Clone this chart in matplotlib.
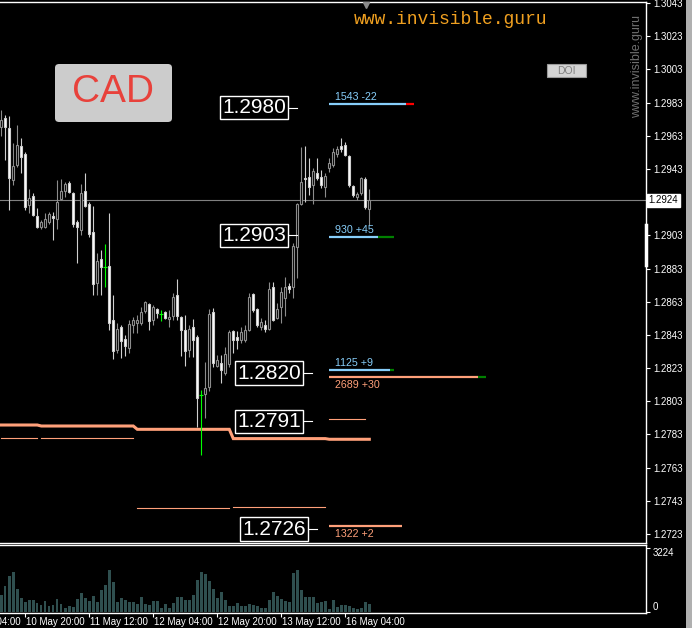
import numpy as np
import matplotlib
matplotlib.use('Agg')
import matplotlib.pyplot as plt
import matplotlib.transforms as mtransforms
from matplotlib.patches import FancyBboxPatch, Rectangle

plt.rcParams['font.family'] = ['Liberation Sans', 'DejaVu Sans']

# ---- USDCAD H1 candles, bar 0 = 10 May 14:00 ----
opens = [1.29683, 1.29737, 1.29677, 1.29363, 1.29454, 1.29568, 1.29520, 1.29213, 1.29267, 1.29146,
         1.29080, 1.29080, 1.29110, 1.29146, 1.29128, 1.29249, 1.29297, 1.29345, 1.29285, 1.29110,
         1.29062, 1.29297, 1.29219, 1.29050, 1.28743, 1.28887, 1.28839, 1.28845, 1.28520, 1.28339,
         1.28478, 1.28405, 1.28351, 1.28490, 1.28502, 1.28502, 1.28574, 1.28616, 1.28520, 1.28586,
         1.28556, 1.28568, 1.28526, 1.28544, 1.28670, 1.28538, 1.28459, 1.28339, 1.28478, 1.28417,
         1.28068, 1.28074, 1.28116, 1.28568, 1.28243, 1.28261, 1.28200, 1.28255, 1.28453, 1.28417,
         1.28399, 1.28399, 1.28459, 1.28676, 1.28586, 1.28478, 1.28490, 1.28465, 1.28719, 1.28532,
         1.28598, 1.28652, 1.28725, 1.28719, 1.28960, 1.29219, 1.29375, 1.29381, 1.29333, 1.29405,
         1.29381, 1.29321, 1.29436, 1.29454, 1.29520, 1.29568, 1.29574, 1.29508, 1.29327, 1.29261,
         1.29285, 1.29369, 1.29189]
highs = [1.29785, 1.29755, 1.29749, 1.29586, 1.29695, 1.29616, 1.29532, 1.29309, 1.29285, 1.29195,
         1.29122, 1.29164, 1.29170, 1.29170, 1.29363, 1.29369, 1.29351, 1.29357, 1.29291, 1.29122,
         1.29339, 1.29405, 1.29231, 1.29207, 1.28923, 1.28942, 1.28978, 1.29164, 1.28670, 1.28502,
         1.28490, 1.28429, 1.28520, 1.28538, 1.28550, 1.28598, 1.28635, 1.28622, 1.28610, 1.28592,
         1.28580, 1.28574, 1.28580, 1.28682, 1.28767, 1.28544, 1.28550, 1.28490, 1.28526, 1.28429,
         1.28098, 1.28267, 1.28586, 1.28592, 1.28309, 1.28309, 1.28357, 1.28459, 1.28459, 1.28453,
         1.28478, 1.28490, 1.28682, 1.28682, 1.28592, 1.28532, 1.28520, 1.28749, 1.28749, 1.28622,
         1.28719, 1.28779, 1.28743, 1.28984, 1.29225, 1.29562, 1.29568, 1.29496, 1.29436, 1.29496,
         1.29424, 1.29405, 1.29496, 1.29556, 1.29568, 1.29616, 1.29592, 1.29514, 1.29333, 1.29291,
         1.29381, 1.29381, 1.29309]
lows = [1.29628, 1.29484, 1.29183, 1.29333, 1.29442, 1.29405, 1.29183, 1.29164, 1.29146, 1.29074,
        1.29068, 1.29074, 1.29098, 1.29002, 1.29068, 1.29243, 1.29261, 1.29285, 1.29080, 1.28863,
        1.29032, 1.29201, 1.29020, 1.28670, 1.28670, 1.28670, 1.28719, 1.28459, 1.28285, 1.28321,
        1.28291, 1.28303, 1.28321, 1.28441, 1.28441, 1.28490, 1.28562, 1.28459, 1.28490, 1.28532,
        1.28514, 1.28526, 1.28478, 1.28520, 1.28520, 1.28303, 1.28243, 1.28297, 1.28297, 1.27875,
        1.27706, 1.27929, 1.28092, 1.28236, 1.28236, 1.28140, 1.28188, 1.28236, 1.28321, 1.28345,
        1.28381, 1.28387, 1.28453, 1.28568, 1.28478, 1.28459, 1.28447, 1.28459, 1.28514, 1.28526,
        1.28502, 1.28544, 1.28682, 1.28652, 1.28773, 1.29213, 1.29231, 1.29273, 1.29219, 1.29363,
        1.29315, 1.29261, 1.29412, 1.29442, 1.29502, 1.29532, 1.29508, 1.29321, 1.29261, 1.29243,
        1.29273, 1.29189, 1.29092]
closes = [1.29725, 1.29683, 1.29375, 1.29448, 1.29574, 1.29502, 1.29201, 1.29255, 1.29152, 1.29080,
          1.29110, 1.29128, 1.29158, 1.29134, 1.29231, 1.29297, 1.29339, 1.29291, 1.29098, 1.29080,
          1.29285, 1.29207, 1.29038, 1.28737, 1.28875, 1.28839, 1.28839, 1.28502, 1.28333, 1.28465,
          1.28393, 1.28363, 1.28496, 1.28520, 1.28520, 1.28568, 1.28628, 1.28514, 1.28598, 1.28562,
          1.28556, 1.28532, 1.28538, 1.28658, 1.28544, 1.28459, 1.28333, 1.28465, 1.28399, 1.28050,
          1.28068, 1.28110, 1.28556, 1.28261, 1.28279, 1.28218, 1.28315, 1.28447, 1.28399, 1.28399,
          1.28447, 1.28459, 1.28658, 1.28580, 1.28490, 1.28508, 1.28465, 1.28706, 1.28520, 1.28586,
          1.28688, 1.28719, 1.28706, 1.28966, 1.29219, 1.29351, 1.29369, 1.29321, 1.29418, 1.29375,
          1.29333, 1.29387, 1.29466, 1.29532, 1.29550, 1.29550, 1.29514, 1.29333, 1.29273, 1.29279,
          1.29375, 1.29201, 1.29240]
volumes = [840, 1300, 1800, 2000, 1160, 720, 490, 590, 590, 450,
           340, 540, 300, 340, 640, 390, 190, 290, 250, 640,
           940, 720, 540, 810, 500, 1090, 1360, 2100, 1500, 490,
           690, 590, 500, 490, 400, 740, 420, 350, 540, 540,
           190, 390, 190, 450, 740, 740, 620, 590, 860, 1630,
           2000, 1920, 1550, 1140, 690, 990, 590, 300, 290, 440,
           320, 320, 400, 350, 290, 190, 200, 590, 990, 790,
           660, 540, 490, 1980, 2100, 1090, 760, 760, 770, 470,
           520, 540, 150, 590, 240, 340, 340, 300, 190, 150,
           190, 490, 390]

time_bars = [-10, 6, 22, 38, 54, 70, 86]
time_labels = ['10 May 04:00', '10 May 20:00', '11 May 12:00', '12 May 04:00',
               '12 May 20:00', '13 May 12:00', '16 May 04:00']
price_ticks = [1.3043, 1.3023, 1.3003, 1.2983, 1.2963, 1.2943, 1.2903, 1.2883, 1.2863,
               1.2843, 1.2823, 1.2803, 1.2783, 1.2763, 1.2743, 1.2723]
bid = 1.2924
vol_max = 3224

# daily indicator lines (one value per trading day)
day_start = [0, 10, 34, 58, 82]
day_end = [9, 33, 57, 81, 92]
thick_level = [1.27887, 1.27881, 1.27861, 1.27805, 1.27801]
thin_level = [1.27809, 1.27807, 1.27385, 1.27391, 1.27923]
thin_end = [9, 33, 57, 81, 91]

# current-day levels on the right
lvl_price = [1.29821, 1.29020, 1.28218, 1.28178, 1.27278]
lvl_end = [101.2, 94.2, 97.2, 119.2, 100.2]
lvl_tip = [103.2, 98.2, 98.2, 121.2, None]
lvl_text = ['1543 -22', '930 +45', '1125 +9', '2689 +30', '1322 +2']

tag_text = ['1.2980', '1.2903', '1.2820', '1.2791', '1.2726']
tag_bar = [71.7, 71.7, 75.4, 75.4, 76.7]

W, H = 692, 628
BLUE = '#87cefa'
SALMON = '#ffa07a'

fig = plt.figure(figsize=(W / 100, H / 100), dpi=100, facecolor='black')


def rect(x0, y0, x1, y1):
    return [x0 / W, 1 - y1 / H, (x1 - x0) / W, (y1 - y0) / H]


ax = fig.add_axes(rect(0, 1.5, 646, 543))
axv = fig.add_axes(rect(0, 545, 646, 613))
for a in (ax, axv):
    a.set_facecolor('black')
    a.spines['left'].set_visible(False)
    for s in ('top', 'right', 'bottom'):
        a.spines[s].set_color('white')
        a.spines[s].set_linewidth(1.0)
    a.set_xlim(-0.325, 161.175)

# ---- candles ----
idx = np.arange(len(opens))
o, hi, lo, c = map(np.array, (opens, highs, lows, closes))
bull = c > o
bear = c < o
doji = c == o
ax.vlines(idx[bull], lo[bull], hi[bull], color='#8c8c8c', lw=0.8, zorder=3)
ax.vlines(idx[bear], lo[bear], hi[bear], color='#cfcfcf', lw=0.8, zorder=3)
ax.bar(idx[bull], (c - o)[bull], bottom=o[bull], width=0.5, facecolor='black',
       edgecolor='#8c8c8c', lw=0.8, zorder=4)
ax.bar(idx[bear], (o - c)[bear], bottom=c[bear], width=0.5, facecolor='white',
       edgecolor='#cfcfcf', lw=0.8, zorder=4)
ax.vlines(idx[doji], lo[doji], hi[doji], color='#00ff00', lw=0.8, zorder=4)
ax.hlines(c[doji], idx[doji] - 0.5, idx[doji] + 0.5, color='#00ff00', lw=0.8, zorder=4)

ax.axhline(bid, color='#808080', lw=0.8, zorder=2)

# ---- daily lines ----
xs, ys = [], []
for s, e, v in zip(day_start, day_end, thick_level):
    xs += [s, e]
    ys += [v, v]
ax.plot(xs, ys, color=SALMON, lw=2.2, solid_joinstyle='miter', zorder=2)
for s, e, v in zip(day_start, thin_end, thin_level):
    ax.plot([s, e], [v, v], color=SALMON, lw=0.8, zorder=2)

# ---- right-side levels ----
tip_colors = ['#ff0000', '#008000', '#008000', '#008000', None]
lvl_colors = [BLUE, BLUE, BLUE, SALMON, SALMON]
above = [True, True, True, False, False]
for p, e, t, txt, col, tc, up in zip(lvl_price, lvl_end, lvl_tip, lvl_text,
                                     lvl_colors, tip_colors, above):
    ax.plot([day_start[-1], e], [p, p], color=col, lw=1.6, solid_capstyle='butt', zorder=3)
    if t is not None:
        ax.plot([e, t], [p, p], color=tc, lw=1.6, solid_capstyle='butt', zorder=3)
    ax.annotate(txt, xy=(day_start[-1], p), xytext=(6, 7 if up else -8),
                textcoords='offset pixels', color=col, fontsize=7.7,
                ha='left', va='center', zorder=5)

# ---- price tags ----
for txt, b in zip(tag_text, tag_bar):
    p = float(txt)
    ax.plot([b, b + 2.3], [p, p], color='white', lw=0.8, zorder=5)
    ax.text(b - 0.5, p, txt, color='white', fontsize=15, ha='right', va='center',
            bbox=dict(boxstyle='square,pad=0.1', fc='black', ec='white', lw=1.0),
            zorder=6)

# ---- axes ticks ----
ax.set_ylim(1.27176, 1.30439)
ax.set_xticks([])
ax.yaxis.tick_right()
ax.set_yticks(price_ticks)
ax.set_yticklabels([f'{p:.4f}' for p in price_ticks])
ax.tick_params(axis='y', colors='white', length=3, width=0.8, pad=2, labelsize=7)

trans_r = mtransforms.blended_transform_factory(ax.transAxes, ax.transData)
ax.text(1.0 + 2.5 / 646, bid, f'{bid:.4f}', transform=trans_r, color='black', fontsize=7,
        ha='left', va='center', bbox=dict(boxstyle='square,pad=0.15', fc='white', ec='white'),
        clip_on=False, zorder=7)
ax.plot([1.0, 1.0], [1.29092, 1.28851], transform=trans_r, color='white', lw=2.5,
        clip_on=False, zorder=7)
trans_t = mtransforms.blended_transform_factory(ax.transData, ax.transAxes)
ax.plot([91.2], [1 - 3 / 541], transform=trans_t, marker='v', color='#8a8a8a',
        markersize=5, clip_on=False, zorder=7)

# ---- volume ----
axv.bar(idx, volumes, width=0.6, color='#2f4f4f', zorder=2)
axv.set_ylim(-50.4, 3377)
axv.yaxis.tick_right()
axv.set_yticks([0, vol_max])
axv.set_yticklabels(['0', str(vol_max)])
axv.tick_params(axis='y', colors='white', length=3, width=0.8, pad=2, labelsize=7)
for lbl in axv.get_yticklabels():
    lbl.set_va('top' if lbl.get_text() == str(vol_max) else 'bottom')
axv.set_xticks([b for b in time_bars if b >= 0])
axv.set_xticklabels([])
axv.tick_params(axis='x', colors='white', length=3, width=0.8)
trans_b = mtransforms.blended_transform_factory(axv.transData, axv.transAxes)
for b, lab in zip(time_bars, time_labels):
    axv.text(b + 0.15, -9 / 68, lab, transform=trans_b, color='white', fontsize=7,
             ha='left', va='center', clip_on=False)

# ---- decorations ----
fig.patches.append(FancyBboxPatch((55 / W, 1 - 122 / H), 117 / W, 58 / H,
                                  boxstyle='round,pad=0,rounding_size=0.006',
                                  fc='#cccccc', ec='none', transform=fig.transFigure))
fig.text(113.5 / W, 1 - 92 / H, 'CAD', color='#e8413b', fontsize=28,
         ha='center', va='center')
fig.text(451 / W, 1 - 20 / H, 'www.invisible.guru', color='#f0a020', fontsize=13,
         family='Liberation Mono', ha='center', va='center')
fig.text(637 / W, 1 - 66 / H, 'www.invisible.guru', color='#707070', fontsize=9,
         rotation=90, ha='center', va='center')
fig.patches.append(Rectangle((547 / W, 1 - 77 / H), 39 / W, 13 / H, fc='#d4d4d4',
                             ec='#9a9a9a', lw=0.8, transform=fig.transFigure))
fig.text(566.5 / W, 1 - 70.5 / H, 'DOI', color='#808080', fontsize=7.5,
         ha='center', va='center')
fig.patches.append(Rectangle((686 / W, 0), 6 / W, 1, fc='#b0b0b0', ec='none',
                             transform=fig.transFigure))

fig.savefig('out.png', dpi=100, facecolor='black')
